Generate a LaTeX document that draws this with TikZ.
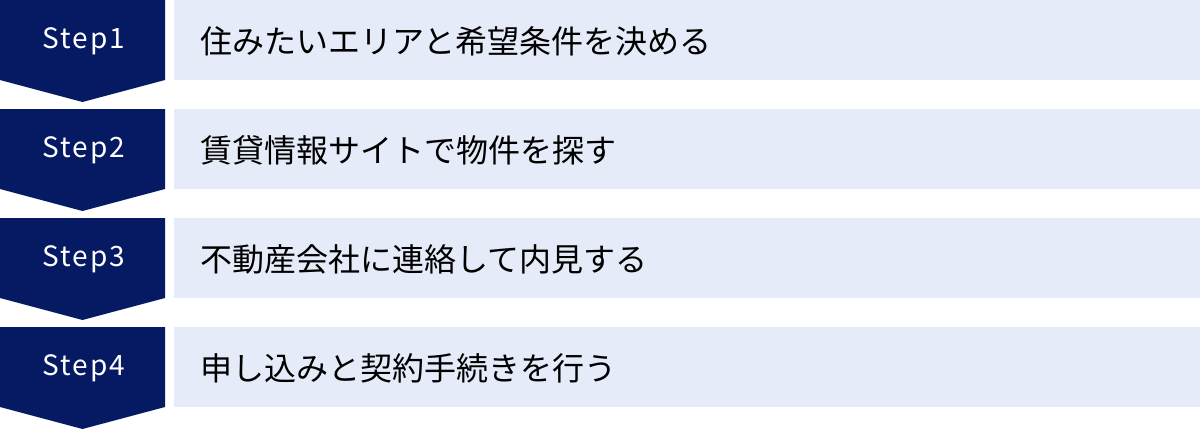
\documentclass[tikz,border=0pt]{standalone}
\usepackage{fontspec}
\setmainfont{Noto Sans CJK JP}
\newfontfamily\jpfont{Noto Sans CJK JP}
\newfontfamily\stepfont[LetterSpace=7]{Noto Sans CJK JP}
\definecolor{navy}{HTML}{061A63}
\definecolor{lightbox}{HTML}{E5EBF8}
\tikzset{
  stepshape/.style={fill=navy},
  itembox/.style={fill=lightbox},
  steplabel/.style={text=white, font=\stepfont\fontsize{28}{32}\selectfont, inner sep=0pt},
  itemlabel/.style={text=black, font=\jpfont\fontsize{32}{36}\selectfont, inner sep=0pt, anchor=west},
}
\begin{document}
\begin{tikzpicture}[x=1pt,y=-1pt]
\useasboundingbox (0,0) rectangle (1200,429);
\foreach \i/\lab/\txt in {0/Step1/住みたいエリアと希望条件を決める,1/Step2/賃貸情報サイトで物件を探す,2/Step3/不動産会社に連絡して内見する,3/Step4/申し込みと契約手続きを行う}{
  \pgfmathsetmacro{\t}{109*\i}
  \fill[stepshape] (0,\t) -- (165,\t) -- (165,\t+80) -- (82.5,\t+102) -- (0,\t+80) -- cycle;
  \fill[itembox] (174,\t) rectangle (1200,\t+80);
  \node[steplabel] (step\i) at (84,\t+41) {\lab};
  \node[itemlabel] (item\i) at (200,\t+41) {\txt};
}
\end{tikzpicture}
\end{document}
